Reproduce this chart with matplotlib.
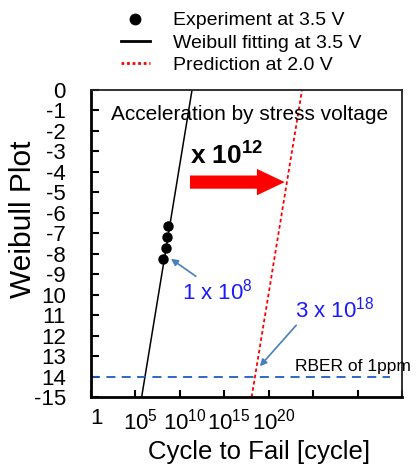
import numpy as np
import matplotlib
matplotlib.use("Agg")
import matplotlib.pyplot as plt
from matplotlib.lines import Line2D
import matplotlib.transforms as mtransforms

plt.rcParams['font.family'] = ['Liberation Sans', 'DejaVu Sans']
plt.rcParams['mathtext.fontset'] = 'custom'
plt.rcParams['mathtext.rm'] = 'Liberation Sans'
plt.rcParams['mathtext.it'] = 'Liberation Sans:italic'
plt.rcParams['mathtext.bf'] = 'Liberation Sans:bold'

# data (x in cycles, y = Weibull plot value)
exp_cycles = [10**8.70, 10**8.59, 10**8.41, 10**8.14]
exp_weibull = [-6.64, -7.20, -7.71, -8.26]
fit_cycles = [10**5.70, 10**11.37]
fit_weibull = [-15, 0]
pred_cycles = [10**18.08, 10**23.75]
pred_weibull = [-15, 0]
rber_cycles = [1, 10**33.6]
rber_level = -14

ytick_vals = list(range(0, -16, -1))
ytick_labels = ['0', '-1', '-2', '-3', '-4', '-5', '-6', '-7', '-8', '-9',
                '10', '11', '12', '13', '14', '-15']
xtick_vals = [1, 1e5, 1e10, 1e15, 1e20, 1e25, 1e30, 1e35]
xtick_labels = ['1', '$10^{5}$', '$10^{10}$', '$10^{15}$', '$10^{20}$', '', '', '']

fig = plt.figure(figsize=(4.16, 4.68), dpi=100)
ax = fig.add_axes([91/416, 1 - 397/468, 311/416, 307/468])

ax.plot(fit_cycles, fit_weibull, color='black', lw=1.1)
ax.plot(pred_cycles, pred_weibull, color='red', lw=1.3, ls=(0, (2, 1.5)))
ax.plot(exp_cycles, exp_weibull, 'o', color='black', ms=6.5)
ax.plot(rber_cycles, [rber_level, rber_level], color='#1f5cbf', lw=1.3, ls=(0, (5, 3.5)))

ax.set_xscale('log')
ax.set_xlim(1, 1e35)
ax.set_ylim(-15, 0)
ax.xaxis.set_major_locator(matplotlib.ticker.FixedLocator(xtick_vals))
ax.xaxis.set_major_formatter(matplotlib.ticker.FixedFormatter(xtick_labels))
ax.xaxis.set_minor_locator(matplotlib.ticker.NullLocator())
ax.set_yticks(ytick_vals)
ax.set_yticklabels(ytick_labels)
ax.tick_params(axis='both', direction='in', length=5, width=1.5, labelsize=16, color='black')
ax.tick_params(axis='y', pad=18, length=6)
ax.tick_params(axis='x', pad=8)
for lab in ax.get_xticklabels():
    lab.set_transform(lab.get_transform() + mtransforms.ScaledTranslation(5/100, 0, fig.dpi_scale_trans))

for side in ['left', 'bottom']:
    ax.spines[side].set_linewidth(2)
for side in ['top', 'right']:
    ax.spines[side].set_linewidth(1.3)
    ax.spines[side].set_color('#222222')

ax.set_xlabel('Cycle to Fail [cycle]', fontsize=18.5)
ax.set_ylabel('Weibull Plot', fontsize=21.5)
ax.xaxis.set_label_coords(0.54, -0.14)
ax.yaxis.set_label_coords(-0.175, 0.58)

ax.text(0.064, 0.919, 'Acceleration by stress voltage', transform=ax.transAxes,
        fontsize=15, va='center', ha='left')
ax.text(10**11.14, -3.22, r'x $\mathbf{10^{12}}$', fontsize=19, fontweight='bold',
        va='center', ha='left')
ax.annotate('', xy=(10**21.8, -4.5), xytext=(10**11.14, -4.5),
            arrowprops=dict(arrowstyle='simple,head_width=1.9,head_length=2.0,tail_width=0.95',
                            color='red', lw=0, shrinkA=0, shrinkB=0),
            annotation_clip=False)

ax.annotate('1 x $10^{8}$', xy=(10**9.0, -8.25), xytext=(0.293, 0.342),
            textcoords='axes fraction', color='#1a1aff', fontsize=16,
            va='center', ha='left',
            arrowprops=dict(arrowstyle='-|>', color='#4a7ebb', lw=1.2,
                            shrinkA=0, shrinkB=0, mutation_scale=10,
                            relpos=(0.25, 1.0)))
ax.annotate('3 x $10^{18}$', xy=(10**19.0, -13.5), xytext=(0.655, 0.285),
            textcoords='axes fraction', color='#1a1aff', fontsize=16,
            va='center', ha='left',
            arrowprops=dict(arrowstyle='-|>', color='#4a7ebb', lw=1.2,
                            shrinkA=0, shrinkB=0, mutation_scale=10,
                            relpos=(0.05, 0.0)))
ax.text(0.656, 0.1, 'RBER of 1ppm', transform=ax.transAxes, fontsize=12.5,
        va='center', ha='left', clip_on=False)

handles = [
    Line2D([], [], marker='o', color='black', ls='none', ms=7.5),
    Line2D([], [], color='black', lw=2),
    Line2D([], [], color='red', lw=2, ls=(0, (1, 1))),
]
labels = ['Experiment at 3.5 V', 'Weibull fitting at 3.5 V', 'Prediction at 2.0 V']
fig.legend(handles, labels, loc='upper left', bbox_to_anchor=(111/416, 1 - 2/468),
           frameon=False, fontsize=14, handlelength=1.5, handletextpad=1.2,
           labelspacing=0.25, borderpad=0)

fig.savefig('out.png', dpi=100)
